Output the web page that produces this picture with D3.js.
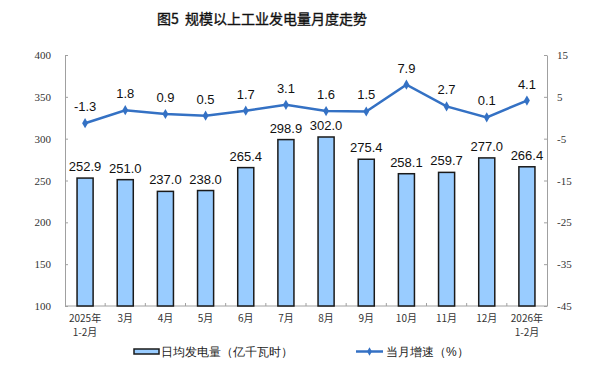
<!DOCTYPE html>
<html lang="zh">
<head>
<meta charset="UTF-8">
<title>规模以上工业发电量月度走势</title>
<script src="https://cdn.jsdelivr.net/npm/d3@7"></script>
<style>
    body { margin: 0; background: #fff; }
    svg text { font-family: "Liberation Sans", Arial, sans-serif; }
</style>
</head>
<body>
<div id="chart"></div>
<script>
    // 数据
    const months = [["2025年", "1-2月"], ["3月"], ["4月"], ["5月"], ["6月"], ["7月"], ["8月"], ["9月"], ["10月"], ["11月"], ["12月"], ["2026年", "1-2月"]]
    const dailyOutput = [252.9, 251.0, 237.0, 238.0, 265.4, 298.9, 302.0, 275.4, 258.1, 259.7, 277.0, 266.4]
    const growth = [-1.3, 1.8, 0.9, 0.5, 1.7, 3.1, 1.6, 1.5, 7.9, 2.7, 0.1, 4.1]
    const leftTicks = [100, 150, 200, 250, 300, 350, 400]
    const rightTicks = [-45, -35, -25, -15, -5, 5, 15]

    const W = 610, H = 389
    const plotL = 65, plotR = 547, plotT = 55, plotB = 306
    const cjk = '"Noto Sans CJK SC", "Noto Sans", sans-serif'
    const serif = '"Liberation Serif", "DejaVu Serif", serif'

    const svg = d3.select("#chart").append("svg").attr("width", W).attr("height", H)

    svg.append("text").attr("x", 262).attr("y", 24).attr("text-anchor", "middle")
        .style("font-family", cjk).style("font-size", "14px").style("white-space", "pre")
        .attr("fill", "#111").attr("stroke", "#111").attr("stroke-width", 0.35)
        .text("图5  规模以上工业发电量月度走势")

    const x = d3.scaleBand().domain(d3.range(months.length)).range([plotL, plotR])
    const yL = d3.scaleLinear().domain([100, 400]).range([plotB, plotT])
    const yR = d3.scaleLinear().domain([-45, 15]).range([plotB, plotT])

    // 坐标轴
    const axL = svg.append("g").attr("transform", `translate(${plotL},0)`)
        .call(d3.axisRight(yL).tickValues(leftTicks).tickSize(3).tickSizeOuter(0))
    axL.selectAll("text").remove()
    axL.selectAll("line, path").attr("stroke", "#a0a0a0")
    svg.append("g").selectAll("text").data(leftTicks).join("text")
        .attr("x", plotL - 14).attr("y", d => yL(d) + 4).attr("text-anchor", "end")
        .style("font-family", serif).style("font-size", "11px").attr("fill", "#333").text(d => d)

    const axR = svg.append("g").attr("transform", `translate(${plotR},0)`)
        .call(d3.axisLeft(yR).tickValues(rightTicks).tickSize(3).tickSizeOuter(0))
    axR.selectAll("text").remove()
    axR.selectAll("line, path").attr("stroke", "#a0a0a0")
    svg.append("g").selectAll("text").data(rightTicks).join("text")
        .attr("x", plotR + 10).attr("y", d => yR(d) + 4).attr("text-anchor", "start")
        .style("font-family", serif).style("font-size", "11px").attr("fill", "#333").text(d => d)

    const axB = svg.append("g").attr("transform", `translate(0,${plotB})`)
    axB.append("line").attr("x1", plotL).attr("x2", plotR).attr("stroke", "#a0a0a0")
    axB.selectAll("line.t").data(d3.range(1, months.length)).join("line").attr("class", "t")
        .attr("x1", d => x(d)).attr("x2", d => x(d)).attr("y1", 0).attr("y2", -3).attr("stroke", "#a0a0a0")

    // 月份标签，每行一个 text
    const monthLines = months.flatMap((m, i) => m.map((s, j) => ({ i, j, s })))
    svg.append("g").selectAll("text").data(monthLines).join("text")
        .attr("x", d => x(d.i) + x.bandwidth() / 2).attr("y", d => 322 + d.j * 14)
        .attr("text-anchor", "middle")
        .style("font-family", cjk).style("font-size", "10px").attr("fill", "#333").text(d => d.s)

    // 柱
    const bw = x.bandwidth() * 0.4
    svg.append("g").selectAll("rect").data(dailyOutput).join("rect")
        .attr("x", (d, i) => x(i) + (x.bandwidth() - bw) / 2).attr("width", bw)
        .attr("y", d => yL(d)).attr("height", d => plotB - yL(d))
        .attr("fill", "#99ccff").attr("stroke", "#1a1a1a").attr("stroke-width", 1.5)
    svg.append("g").selectAll("text").data(dailyOutput).join("text")
        .attr("x", (d, i) => x(i) + x.bandwidth() / 2).attr("y", d => yL(d) - 7)
        .attr("text-anchor", "middle").style("font-size", "13px").attr("fill", "#111")
        .text(d => d.toFixed(1))

    // 折线
    const cx = i => x(i) + x.bandwidth() / 2
    svg.append("path").datum(growth)
        .attr("d", d3.line().x((d, i) => cx(i)).y(d => yR(d)))
        .attr("fill", "none").attr("stroke", "#3471c4").attr("stroke-width", 2.5)
    svg.append("g").selectAll("path").data(growth).join("path")
        .attr("transform", (d, i) => `translate(${cx(i)},${yR(d)})`)
        .attr("d", d3.symbol(d3.symbolDiamond, 30)).attr("fill", "#3471c4")
    svg.append("g").selectAll("text").data(growth).join("text")
        .attr("x", (d, i) => cx(i)).attr("y", d => yR(d) - 12)
        .attr("text-anchor", "middle").style("font-size", "13px").attr("fill", "#111")
        .text(d => d.toFixed(1))

    // 图例
    const lg = svg.append("g").style("font-family", cjk).style("font-size", "12px")
    lg.append("rect").attr("x", 134).attr("y", 349).attr("width", 25).attr("height", 5)
        .attr("fill", "#99ccff").attr("stroke", "#1a1a1a").attr("stroke-width", 1.5)
    lg.append("text").attr("x", 161).attr("y", 356).attr("fill", "#222").text("日均发电量（亿千瓦时）")
    lg.append("line").attr("x1", 356).attr("x2", 383).attr("y1", 351.5).attr("y2", 351.5)
        .attr("stroke", "#3471c4").attr("stroke-width", 2.5)
    lg.append("path").attr("transform", "translate(369.5,351.5)")
        .attr("d", d3.symbol(d3.symbolDiamond, 20)).attr("fill", "#3471c4")
    lg.append("text").attr("x", 386).attr("y", 356).attr("fill", "#222").text("当月增速（%）")
</script>
</body>
</html>
